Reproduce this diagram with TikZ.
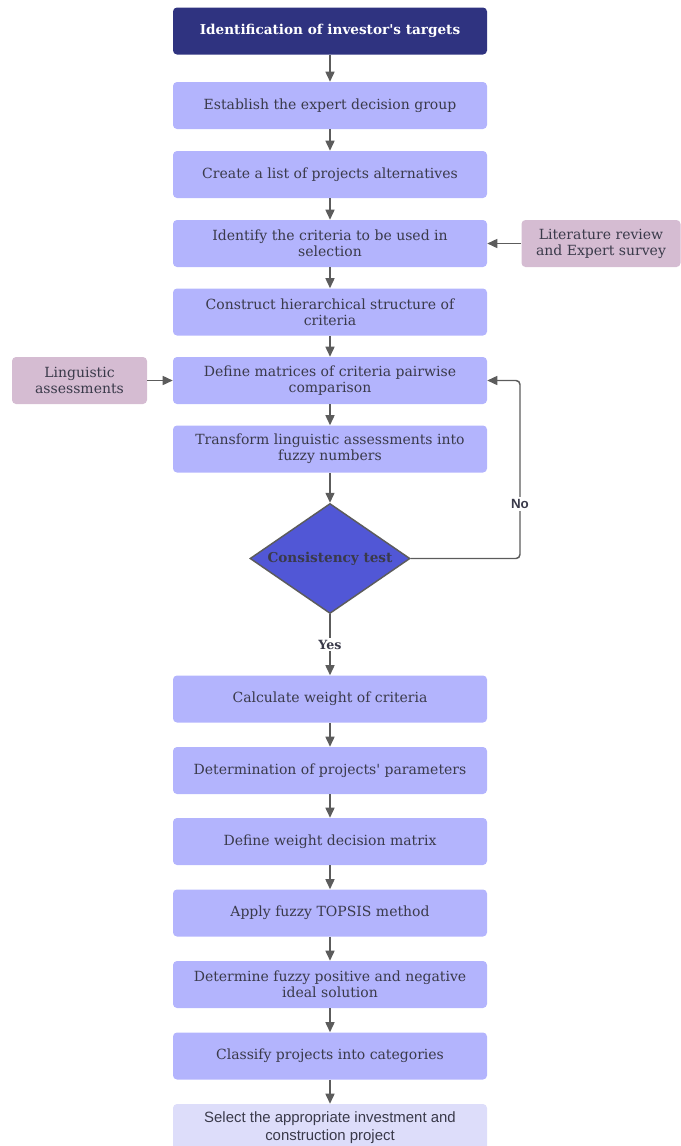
\documentclass[tikz,border=0pt]{standalone}
\usepackage{fontspec}
\setmainfont{DejaVu Serif}
\setsansfont{Liberation Sans}
\usepackage{tikz}
\usetikzlibrary{arrows.meta,positioning,shapes.geometric,calc}

\definecolor{boxblue}{RGB}{179,180,253}
\definecolor{topnavy}{RGB}{47,51,128}
\definecolor{sidepink}{RGB}{213,188,210}
\definecolor{testblue}{RGB}{81,87,214}
\definecolor{lastblue}{RGB}{221,221,250}
\definecolor{txtgray}{RGB}{58,58,74}
\definecolor{linegray}{RGB}{92,92,92}

\newcommand{\stepfont}{\fontsize{10.5}{12}\selectfont}

\begin{document}
\begin{tikzpicture}[x=0.75pt,y=0.75pt,yscale=-1,xscale=1,
  stepbox/.style={fill=boxblue,rounded corners=3pt,minimum width=235.5pt,minimum height=35.25pt,inner sep=0.75pt,align=center,text=txtgray,font=\stepfont},
  topbox/.style={stepbox,fill=topnavy,text=white,font=\fontsize{10.2}{12}\selectfont\bfseries},
  lastbox/.style={stepbox,fill=lastblue,font=\sffamily\fontsize{11.2}{13}\selectfont},
  sidebox/.style={stepbox,fill=sidepink,minimum width=101.25pt},
  testdiamond/.style={diamond,aspect=1.45,draw=linegray,line width=1.1pt,fill=testblue,minimum width=120pt,minimum height=82.5pt,inner sep=0pt,text=txtgray,font=\fontsize{10.2}{12}\selectfont\bfseries},
  answer/.style={fill=white,inner sep=1.5pt,text=txtgray,font=\fontsize{9.5}{12}\selectfont\bfseries},
  flow/.style={draw=linegray,line width=1.1pt,-{Triangle[length=7.5pt,width=6.75pt]}}]
\useasboundingbox (0,0) rectangle (681,1146);

% Main steps
\node[topbox] (targets) at (330,31) {Identification of investor\textquotesingle s targets};
\node[stepbox] (group) at (330,105.5) {Establish the expert decision group};
\node[stepbox] (alternatives) at (330,174.5) {Create a list of projects alternatives};
\node[stepbox] (criteria) at (330,243.5) {Identify the criteria to be used in\\selection};
\node[stepbox] (hierarchy) at (330,312) {Construct hierarchical structure of\\criteria};
\node[stepbox] (pairwise) at (330,380.5) {Define matrices of criteria pairwise\\comparison};
\node[stepbox] (fuzzy) at (330,449) {Transform linguistic assessments into\\fuzzy numbers};
% Decision
\node[testdiamond] (consistency) at (330,558.5) {Consistency test};
\node[stepbox] (weight) at (330,699) {Calculate weight of criteria};
\node[stepbox] (parameters) at (330,770.5) {Determination of projects\textquotesingle\ parameters};
\node[stepbox] (matrix) at (330,841.5) {Define weight decision matrix};
\node[stepbox] (topsis) at (330,913) {Apply fuzzy TOPSIS method};
\node[stepbox] (ideal) at (330,984.5) {Determine fuzzy positive and negative\\ideal solution};
\node[stepbox] (classify) at (330,1056) {Classify projects into categories};
\node[lastbox] (select) at (330,1127.5) {Select the appropriate investment and\\construction project};

% Inputs
\node[sidebox,minimum width=119.25pt] (literature) at (601,243.5) {Literature review\\and Expert survey};
\node[sidebox] (linguistic) at (79.5,380.5) {Linguistic\\assessments};

% Arrows
\foreach \a/\b in {targets/group,group/alternatives,alternatives/criteria,criteria/hierarchy,hierarchy/pairwise,pairwise/fuzzy,fuzzy/consistency,weight/parameters,parameters/matrix,matrix/topsis,topsis/ideal,ideal/classify,classify/select}
  \draw[flow] (\a) -- (\b);
\draw[flow] (consistency) -- node[answer] (yes) {Yes} (weight);
\draw[flow] (literature) -- (criteria);
\draw[flow] (linguistic) -- (pairwise);

% Loop back
\coordinate (noturn) at (520,558.5);
\draw[flow,rounded corners=3pt] (consistency.east) -- (noturn) |- (pairwise.east);
\node[answer,font=\sffamily\fontsize{10}{12}\selectfont\bfseries] (no) at (520,504) {No};
\end{tikzpicture}
\end{document}
